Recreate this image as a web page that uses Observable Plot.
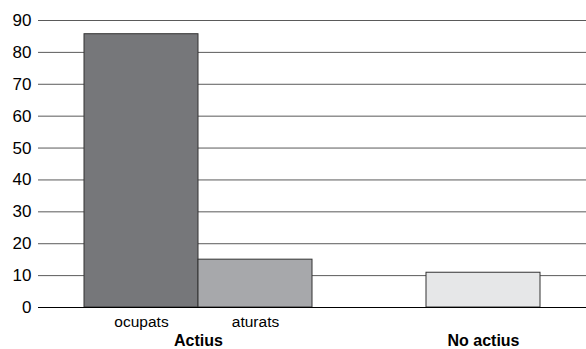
<!DOCTYPE html>
<html>
<head>
<meta charset="utf-8">
<script src="https://cdn.jsdelivr.net/npm/d3@7"></script>
<script src="https://cdn.jsdelivr.net/npm/@observablehq/plot@0.6"></script>
<style>
  body { margin: 0; background: #fff; }
  svg { font-family: "Liberation Sans", Arial, Helvetica, sans-serif; }
</style>
</head>
<body>
<div id="chart"></div>
<script>
const slots = ["ocupats", "aturats", "", "No actius"];
const categories = ["ocupats", "aturats", "No actius"];
const values = [85.7, 15, 10.9];
const fills = ["#76777a", "#a7a8ab", "#e6e7e8"];
const subLabels = ["ocupats", "aturats"];
const groups = ["Actius", "No actius"];
const yTicks = [0, 10, 20, 30, 40, 50, 60, 70, 80, 90];

const data = categories.map((c, i) => ({cat: c, value: values[i], fill: fills[i]}));

const groupStyle = {frameAnchor: "bottom", lineAnchor: "middle", dy: 33, fontSize: 16, fontWeight: "bold", fill: "#000"};

const chart = Plot.plot({
  width: 586,
  height: 349,
  marginLeft: 38,
  marginRight: 0,
  marginTop: 20,
  marginBottom: 42,
  style: {fontFamily: '"Liberation Sans", Arial, sans-serif', color: "#000", background: "#fff"},
  x: {domain: slots, paddingInner: 0, paddingOuter: 0.4, label: null},
  y: {domain: [0, 90], label: null},
  marks: [
    Plot.gridY(yTicks.filter(d => d > 0), {stroke: "#5a5a5a", strokeOpacity: 1, strokeWidth: 1}),
    Plot.barY(data, {x: "cat", y: "value", fill: "fill", stroke: "#333", strokeWidth: 1, inset: 0}),
    Plot.ruleY([0], {stroke: "#000", strokeWidth: 1}),
    Plot.axisY(yTicks, {tickSize: 0, tickPadding: 7, fontSize: 17, label: null}),
    Plot.axisX(subLabels, {tickSize: 0, tickPadding: 8, fontSize: 15.5, label: null}),
    Plot.text([groups[0]], {x: () => subLabels[0], text: d => d, dx: 57, ...groupStyle}),
    Plot.text([groups[1]], {x: d => d, text: d => d, ...groupStyle})
  ]
});
document.getElementById("chart").appendChild(chart);
</script>
</body>
</html>
